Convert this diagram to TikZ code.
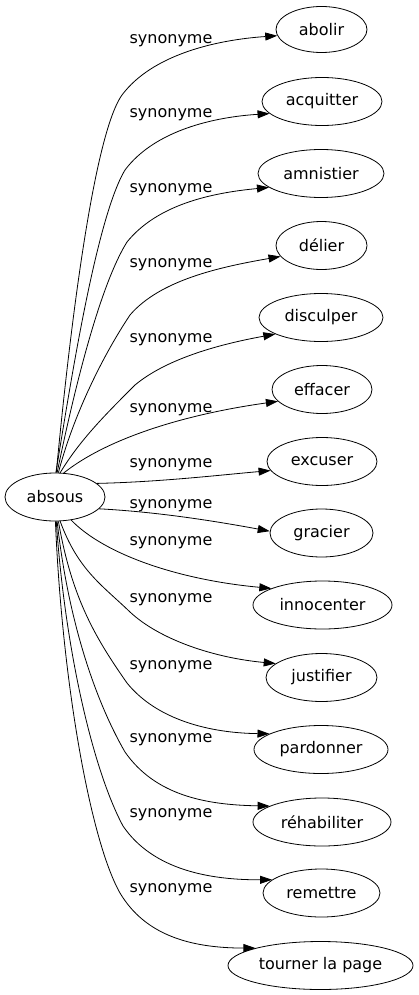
\documentclass[tikz,border=0pt]{standalone}
\usepackage{fontspec}
\setmainfont{DejaVu Sans}
\usetikzlibrary{arrows.meta,shapes.geometric}
\begin{document}
\begin{tikzpicture}[x=1pt,y=-1pt,
  word/.style={draw, ellipse, inner sep=0pt, minimum height=48pt, line width=0.8pt, font=\fontsize{16}{18}\selectfont},
  lbl/.style={font=\fontsize{16}{18}\selectfont, inner sep=0pt},
  rel/.style={-{Triangle[length=12pt,width=8pt]}, line width=0.8pt}]
\useasboundingbox (0,0) rectangle (419,995);
\node[word, minimum width=100pt] (absous) at (55,497) {absous};
\node[word, minimum width=91pt, minimum height=46pt] (abolir) at (321.5,29.5) {abolir};
\node[word, minimum width=120pt] (acquitter) at (322,101.5) {acquitter};
\node[word, minimum width=126pt] (amnistier) at (321,173.5) {amnistier};
\node[word, minimum width=91pt] (delier) at (321.5,245.5) {délier};
\node[word, minimum width=124pt] (disculper) at (321,317.5) {disculper};
\node[word, minimum width=100pt] (effacer) at (322,389.5) {effacer};
\node[word, minimum width=110pt] (excuser) at (322,461.5) {excuser};
\node[word, minimum width=103pt] (gracier) at (321.5,533) {gracier};
\node[word, minimum width=139pt] (innocenter) at (322.5,605) {innocenter};
\node[word, minimum width=111pt] (justifier) at (321.5,677.5) {justifier};
\node[word, minimum width=134pt] (pardonner) at (321,749.5) {pardonner};
\node[word, minimum width=138pt] (rehabiliter) at (322,822) {réhabiliter};
\node[word, minimum width=117pt] (remettre) at (321.5,893) {remettre};
\node[word, minimum width=185pt] (tourner) at (320.5,965.5) {tourner la page};

\node[lbl] (l1) at (171,41) {synonyme};
\node[lbl] (l2) at (171,115) {synonyme};
\node[lbl] (l3) at (171,190) {synonyme};
\node[lbl] (l4) at (171,265) {synonyme};
\node[lbl] (l5) at (171,340) {synonyme};
\node[lbl] (l6) at (171,410) {synonyme};
\node[lbl] (l7) at (171,465) {synonyme};
\node[lbl] (l8) at (171,506) {synonyme};
\node[lbl] (l9) at (171,543) {synonyme};
\node[lbl] (l10) at (171,600) {synonyme};
\node[lbl] (l11) at (171,667) {synonyme};
\node[lbl] (l12) at (171,740) {synonyme};
\node[lbl] (l13) at (171,815) {synonyme};
\node[lbl] (l14) at (171,890) {synonyme};

\draw[rel] (absous.87) .. controls (65,380) and (90,140) .. (122,95) .. controls (152,55) and (215,40) .. (abolir.188);
\draw[rel] (absous.88) .. controls (68,400) and (95,220) .. (125,170) .. controls (155,130) and (215,117) .. (acquitter.193);
\draw[rel] (absous.85) .. controls (70,410) and (97,290) .. (127,242) .. controls (157,205) and (210,193) .. (amnistier.195);
\draw[rel] (absous.82) .. controls (72,420) and (100,360) .. (130,315) .. controls (160,280) and (220,267) .. (delier.195);
\draw[rel] (absous.78) .. controls (80,440) and (105,415) .. (135,385) .. controls (165,360) and (215,345) .. (disculper.200);
\draw[rel] (absous.70) .. controls (105,440) and (180,415) .. (effacer.195);
\draw[rel] (absous.18) .. controls (160,482) and (220,475) .. (excuser.190);
\draw[rel] (absous.-15) .. controls (160,512) and (220,522) .. (gracier.178);
\draw[rel] (absous.-55) .. controls (105,555) and (180,580) .. (innocenter.162);
\draw[rel] (absous.-78) .. controls (78,570) and (102,585) .. (130,612) .. controls (160,640) and (215,658) .. (justifier.163);
\draw[rel] (absous.-82) .. controls (72,600) and (97,640) .. (127,683) .. controls (157,720) and (210,733) .. (pardonner.163);
\draw[rel] (absous.-85) .. controls (68,620) and (95,700) .. (125,752) .. controls (155,795) and (205,805) .. (rehabiliter.163);
\draw[rel] (absous.-87) .. controls (65,650) and (93,770) .. (123,826) .. controls (153,870) and (210,880) .. (remettre.165);
\draw[rel] (absous.-89) .. controls (62,680) and (90,840) .. (120,893) .. controls (145,935) and (190,948) .. (tourner.165);
\end{tikzpicture}
\end{document}
